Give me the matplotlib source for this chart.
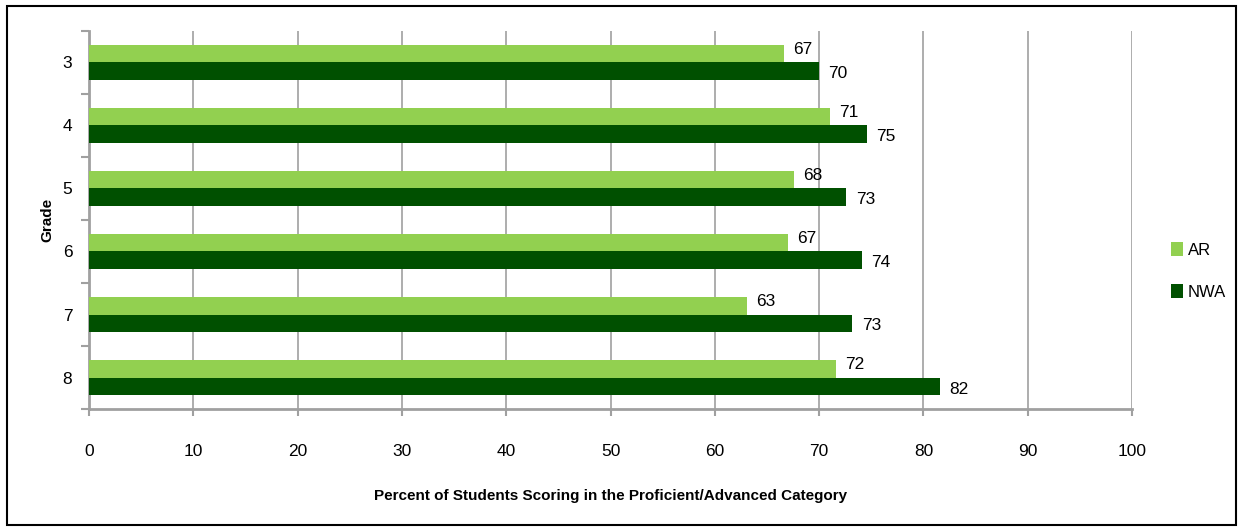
import matplotlib.pyplot as plt
import numpy as np
from matplotlib.patches import Rectangle

plt.rcParams['font.family'] = ['Liberation Sans', 'DejaVu Sans']

grades = ['3', '4', '5', '6', '7', '8']
ar_values = [66.6, 71.0, 67.6, 67.0, 63.1, 71.6]
nwa_values = [70.0, 74.6, 72.6, 74.1, 73.2, 81.6]
series_names = ['AR', 'NWA']
x_ticks = [0, 10, 20, 30, 40, 50, 60, 70, 80, 90, 100]

light_green = '#92D050'
dark_green = '#005000'
grid_gray = '#A0A0A0'

fig = plt.figure(figsize=(12.38, 5.27), dpi=100)
ax = fig.add_axes([0.0719, 0.2239, 0.8425, 0.7173])

y = np.arange(len(grades))
h = 0.285
ar_bars = ax.barh(y - h / 2, ar_values, height=h, color=light_green, label=series_names[0], zorder=3)
nwa_bars = ax.barh(y + h / 2, nwa_values, height=h, color=dark_green, label=series_names[1], zorder=3)

for bars, vals, dy in [(ar_bars, ar_values, -0.06), (nwa_bars, nwa_values, 0.04)]:
    for bar, v in zip(bars, vals):
        ax.text(v + 0.9, bar.get_y() + bar.get_height() / 2 + dy, f'{round(v):d}',
                va='center', ha='left', fontsize=12.5, color='black')

ax.set_xlim(0, 100)
ax.set_ylim(len(grades) - 0.5, -0.5)
ax.set_xticks(x_ticks)
ax.set_xticklabels([str(t) for t in x_ticks], fontsize=12.5)
ax.tick_params(axis='x', length=5, color=grid_gray, pad=20, width=1.5)

ax.set_yticks(y)
ax.set_yticklabels(grades, fontsize=12.5)
ax.set_yticks(np.arange(-0.5, len(grades) + 0.5, 1), minor=True)
ax.tick_params(axis='y', which='major', length=0, pad=12)
ax.tick_params(axis='y', which='minor', length=6, color=grid_gray, width=1.5)

ax.xaxis.grid(True, color=grid_gray, linewidth=1.2, zorder=0)
ax.set_axisbelow(True)
for side in ['top', 'right']:
    ax.spines[side].set_visible(False)
for side in ['left', 'bottom']:
    ax.spines[side].set_color(grid_gray)
    ax.spines[side].set_linewidth(2)

ax.set_xlabel('Percent of Students Scoring in the Proficient/Advanced Category',
              fontsize=11, fontweight='bold', labelpad=22)
ax.set_ylabel('Grade', fontsize=11, fontweight='bold', labelpad=6)

fig.legend(handles=[ar_bars, nwa_bars], loc='center left', bbox_to_anchor=(0.938, 0.486),
           frameon=False, fontsize=12, handlelength=0.7, handleheight=0.9,
           labelspacing=1.6, handletextpad=0.3, borderaxespad=0.2)

fig.patches.append(Rectangle((0.006, 0.004), 0.992, 0.985, transform=fig.transFigure,
                             fill=False, edgecolor='black', linewidth=1.5))

fig.savefig('out.png', dpi=100)
